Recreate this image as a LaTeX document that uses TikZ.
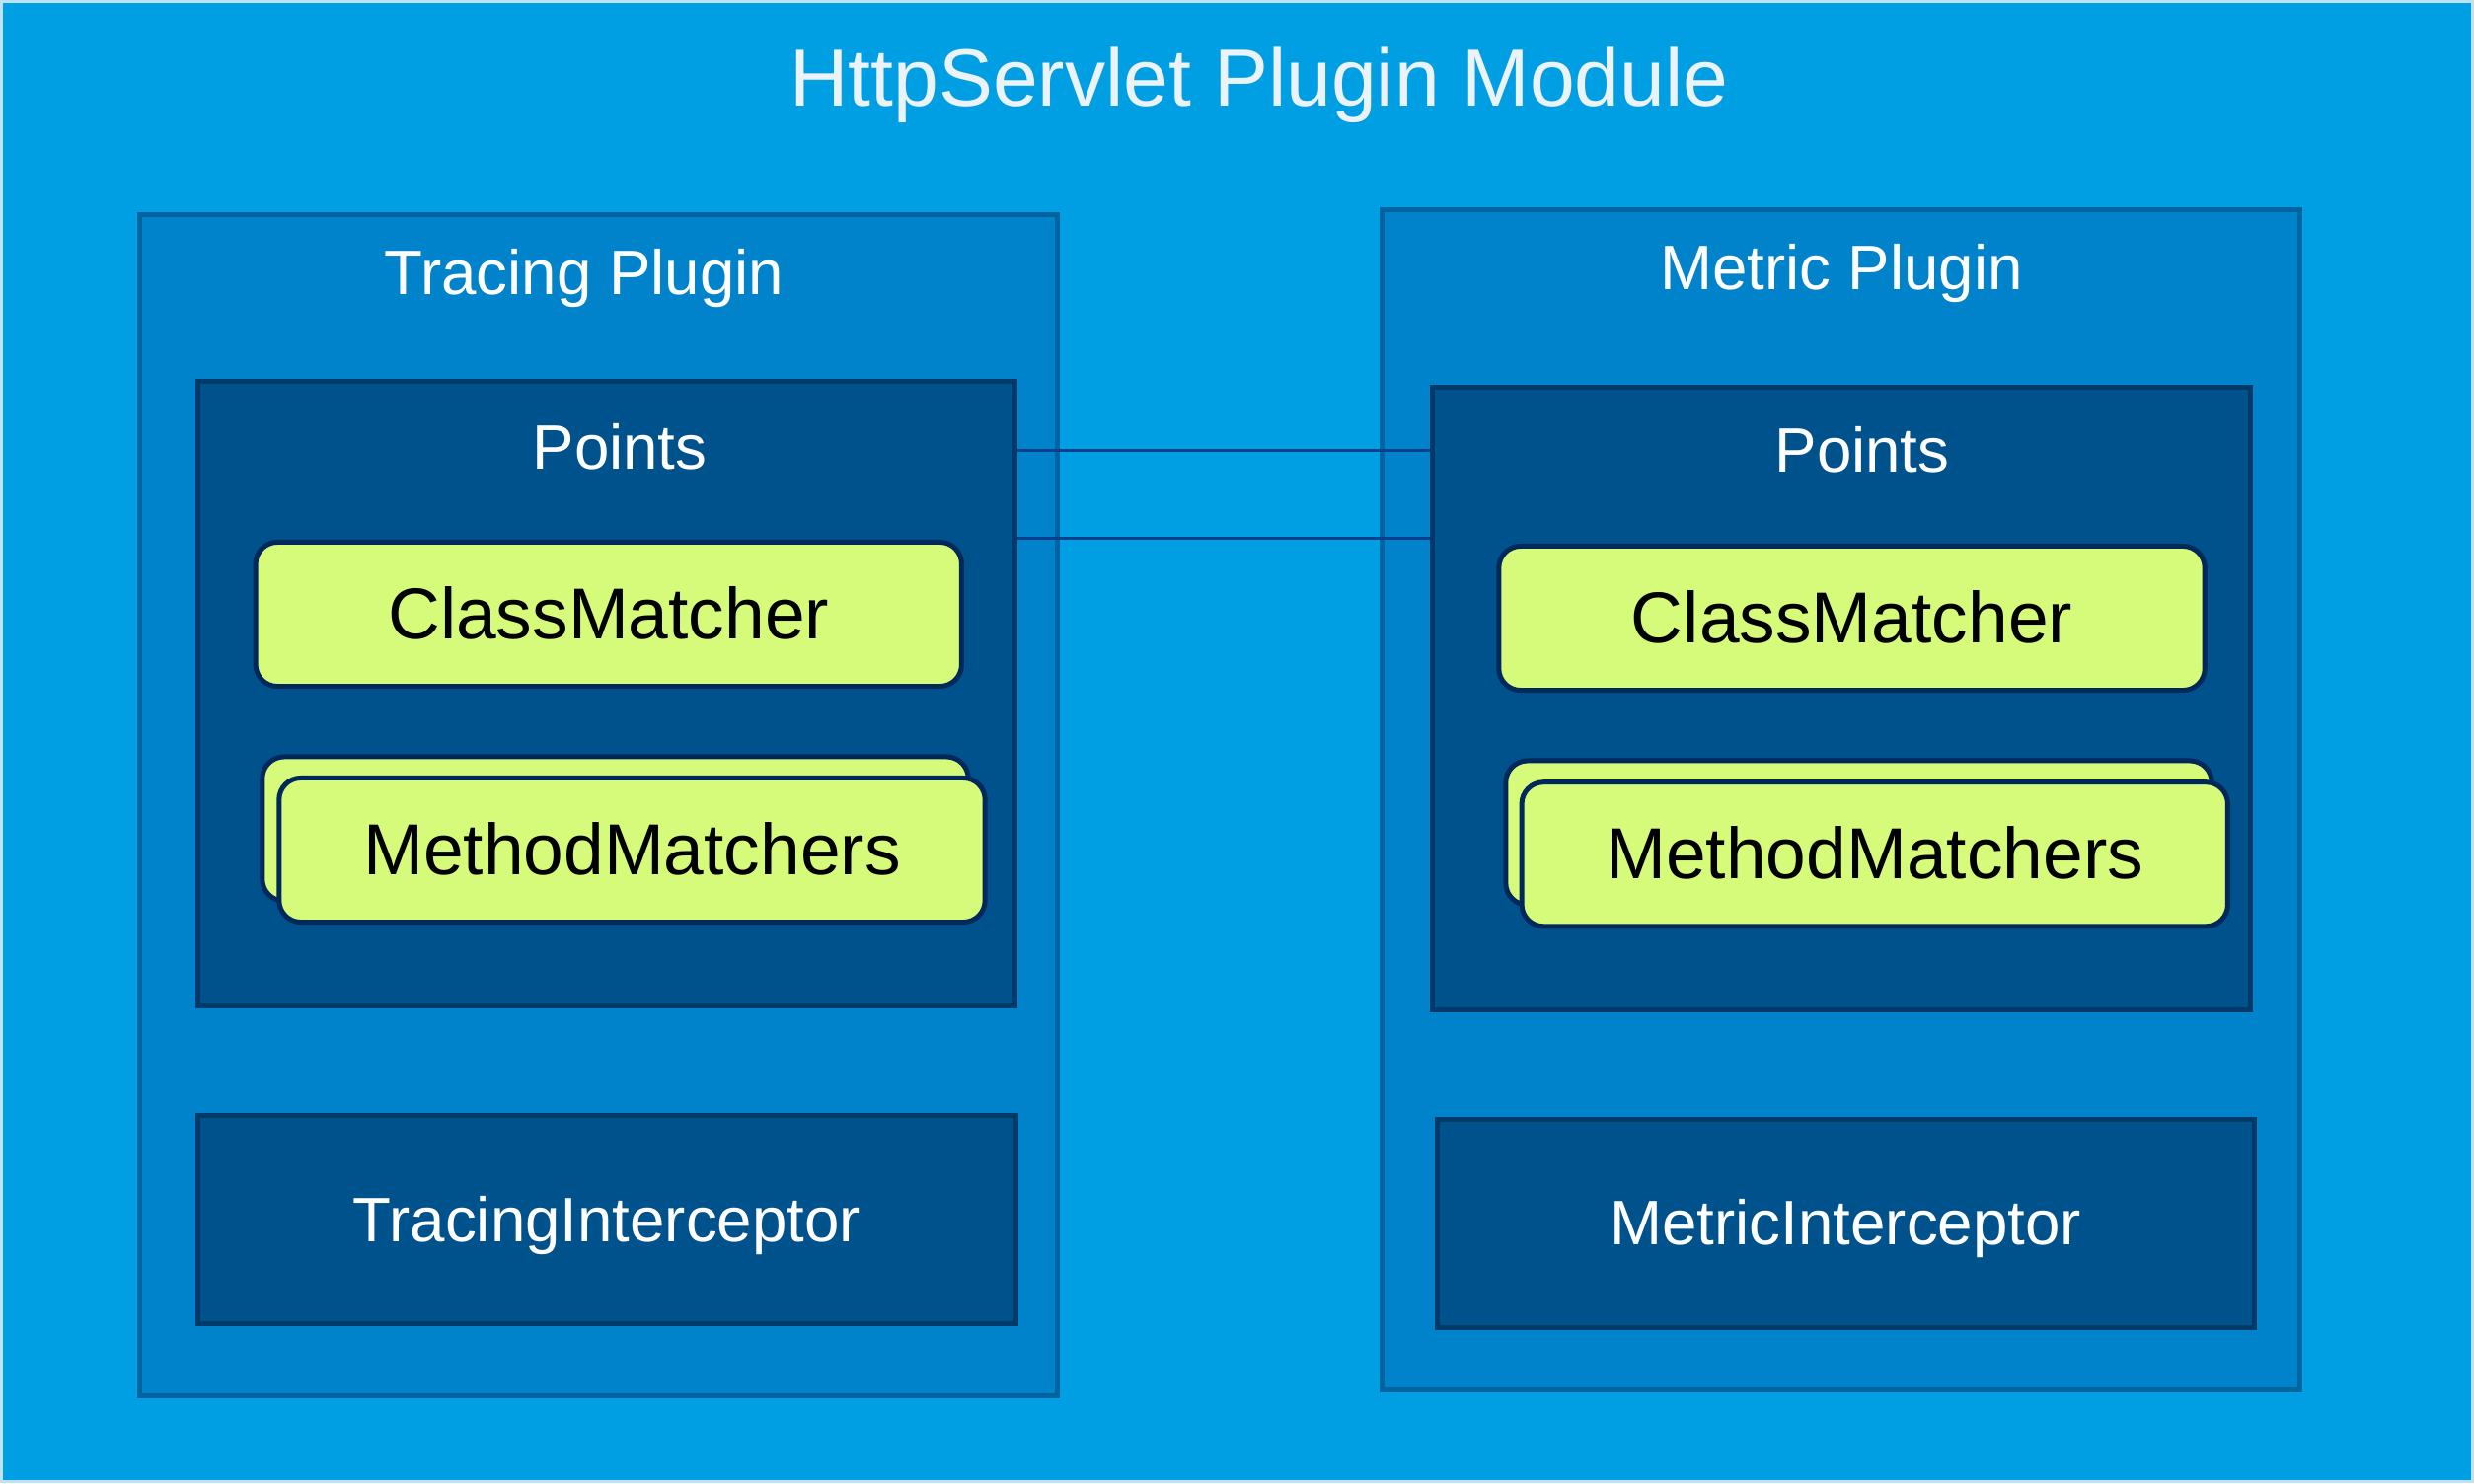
\documentclass[tikz,border=0pt]{standalone}
\usepackage{fontspec}
\setmainfont{Liberation Sans}
\usepackage{xcolor}
\usetikzlibrary{positioning, calc}

\definecolor{modfill}{RGB}{0,159,227}
\definecolor{modline}{RGB}{190,226,244}
\definecolor{plugfill}{RGB}{0,131,202}
\definecolor{plugline}{RGB}{0,100,160}
\definecolor{grpfill}{RGB}{0,82,140}
\definecolor{grpline}{RGB}{0,58,105}
\definecolor{matfill}{RGB}{214,251,122}
\definecolor{matline}{RGB}{0,40,90}
\definecolor{linkcol}{RGB}{10,63,140}
\definecolor{titlecol}{RGB}{235,242,248}

\begin{document}
\begin{tikzpicture}[x=0.01cm, y=-0.01cm,
    module/.style={draw=modline, fill=modfill, line width=0.3mm, minimum width=25.03cm, minimum height=14.99cm, inner sep=0pt},
    plugin/.style={draw=plugline, fill=plugfill, line width=0.5mm, minimum width=9.3cm, minimum height=11.96cm, inner sep=0pt},
    group/.style={draw=grpline, fill=grpfill, line width=0.5mm, minimum width=8.28cm, inner sep=0pt, text=white,
      font=\fontsize{18.1}{22}\selectfont, text height=12.5pt, text depth=0pt},
    matcher/.style={draw=matline, fill=matfill, line width=0.5mm, rounded corners=0.22cm, minimum width=7.15cm,
      minimum height=1.46cm, inner sep=0pt, text=black, font=\fontsize{20.8}{25}\selectfont, text height=14.3pt, text depth=0pt},
    label/.style={text=white, font=\fontsize{18.1}{22}\selectfont, text height=12.5pt, text depth=0pt, inner sep=0pt},
    link/.style={draw=linkcol, line width=0.3mm}
  ]
  \useasboundingbox (0,0) rectangle (2507,1503);
  % Module
  \node[module] (module) at (1253.5,751.5) {};
  \node[label, text=titlecol, font=\fontsize{23.4}{28}\selectfont, text height=16.1pt] (title) at (1276,79) {HttpServlet Plugin Module};

  % Tracing plugin
  \node[plugin] (trace) at (606.5,816) {};
  \node[label] (traceLbl) at (592,277) {Tracing Plugin};
  \node[group, minimum height=6.325cm] (ptsL) at (614.25,703.25) {};
  \node[label] (ptsLLbl) at (628,454) {Points};
  \node[matcher] (cmL) at (616.75,622.5) {ClassMatcher};
  \node[matcher] (mmLback) at (623.5,840) {};
  \node[matcher] (mmL) at (640.5,861.5) {MethodMatchers};
  \node[group, minimum height=2.11cm] (intL) at (615,1236) {TracingInterceptor};

  % Metric plugin
  \node[plugin] (metric) at (1865.5,810.5) {};
  \node[label] (metricLbl) at (1866,272) {Metric Plugin};
  \node[group, minimum height=6.3cm] (ptsR) at (1866,708) {};
  \node[label] (ptsRLbl) at (1887,457) {Points};
  \node[matcher] (cmR) at (1876.5,626.5) {ClassMatcher};
  \node[matcher] (mmRback) at (1883.5,844) {};
  \node[matcher] (mmR) at (1899.75,865.75) {MethodMatchers};
  \node[group, minimum height=2.1cm] (intR) at (1870.25,1240) {MetricInterceptor};

  % Links between the points
  \coordinate (l1) at ([yshift=-0.72cm]ptsL.north east);
  \coordinate (l2) at ([yshift=-1.61cm]ptsL.north east);
  \draw[link] (l1) -- (l1 -| ptsR.west);
  \draw[link] (l2) -- (l2 -| ptsR.west);
\end{tikzpicture}
\end{document}
